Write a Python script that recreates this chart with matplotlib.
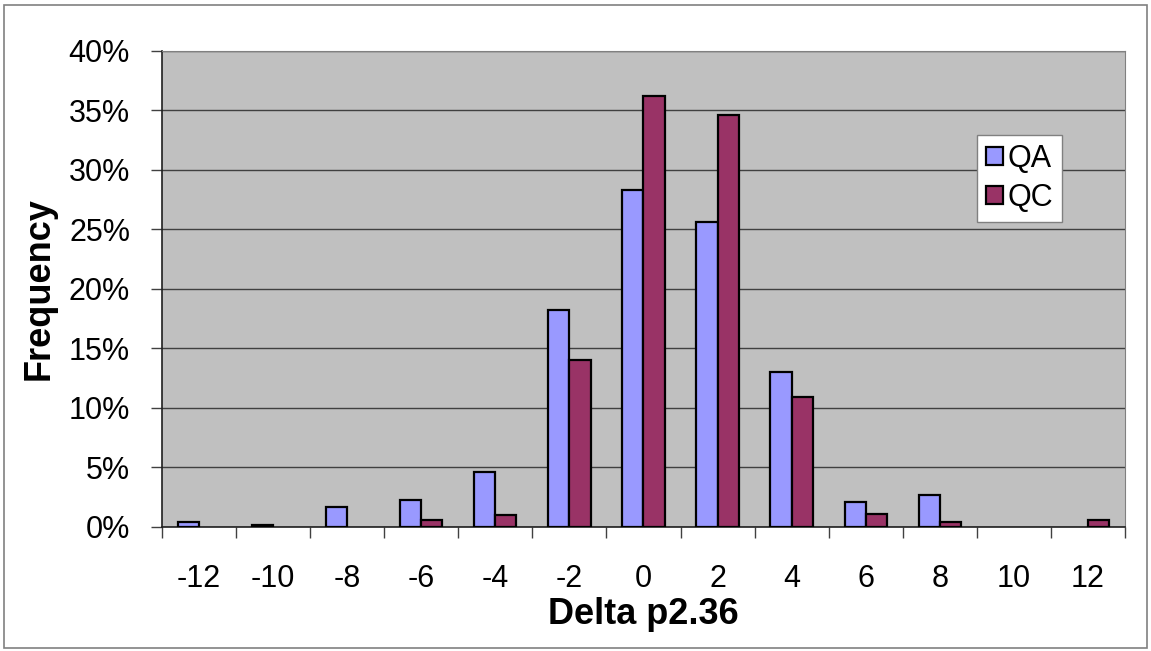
import matplotlib
matplotlib.use("Agg")
import matplotlib.pyplot as plt
from matplotlib.patches import Patch, Rectangle
from matplotlib.ticker import FuncFormatter, MultipleLocator
import numpy as np

plt.rcParams["font.family"] = ["Liberation Sans", "DejaVu Sans"]

# frequency of delta p2.36, in percent
deltas = ["-12", "-10", "-8", "-6", "-4", "-2", "0", "2", "4", "6", "8", "10", "12"]
qa = [0.4, 0.2, 1.7, 2.3, 4.6, 18.2, 28.3, 25.6, 13.0, 2.1, 2.7, 0.0, 0.0]
qc = [0.0, 0.0, 0.0, 0.6, 1.0, 14.0, 36.2, 34.6, 10.9, 1.1, 0.4, 0.0, 0.6]

QA_COL, QC_COL = "#9999FF", "#993366"

fig = plt.figure(figsize=(11.51, 6.51), dpi=100)
ax = fig.add_axes([0.1407, 0.1905, 0.8367, 0.7312])
ax.set_facecolor("#C0C0C0")

x = np.arange(len(deltas))
w = 0.286


def draw(offset, vals, color):
    bars = ax.bar(x + offset, vals, w, color=color, edgecolor="black",
                  linewidth=1.6, zorder=3)
    # empty classes get no outline
    for b, v in zip(bars, vals):
        if v == 0:
            b.set_visible(False)


draw(-w / 2, qa, QA_COL)
draw(w / 2, qc, QC_COL)

ax.set_xlim(-0.5, len(deltas) - 0.5)
ax.set_ylim(0, 40)
ax.yaxis.set_major_locator(MultipleLocator(5))
ax.yaxis.set_major_formatter(FuncFormatter(lambda v, _: f"{v:.0f}%"))
ax.grid(axis="y", color="#404040", linewidth=1.0, zorder=1)

ax.set_xticks(x)
ax.set_xticklabels(deltas)
ax.set_xticks(np.arange(len(deltas) + 1) - 0.5, minor=True)
ax.tick_params(axis="x", which="major", length=0, pad=27, labelsize=22)
ax.tick_params(axis="x", which="minor", length=8, width=1, color="#404040")
ax.tick_params(axis="y", length=8, width=1, color="#404040", labelsize=22, pad=15)

for side in ("top", "right"):
    ax.spines[side].set_color("#808080")
for side in ("left", "bottom"):
    ax.spines[side].set_color("#202020")
    ax.spines[side].set_linewidth(1.2)

ax.set_xlabel("Delta p2.36", fontsize=26, fontweight="bold", labelpad=2)
ax.set_ylabel("Frequency", fontsize=26, fontweight="bold", labelpad=9)

handles = [Patch(facecolor=QA_COL, edgecolor="black", linewidth=1.6, label="QA"),
           Patch(facecolor=QC_COL, edgecolor="black", linewidth=1.6, label="QC")]
leg = ax.legend(handles=handles, loc="upper left", bbox_to_anchor=(0.846, 0.824),
                borderaxespad=0, fontsize=22, handlelength=0.55, handleheight=0.55,
                handletextpad=0.15, labelspacing=0.3, borderpad=0.3,
                fancybox=False, framealpha=1)
leg.get_frame().set_edgecolor("#808080")
leg.get_frame().set_linewidth(1.0)

# outer chart frame
fig.patches.append(Rectangle((0.0035, 0.004), 0.993, 0.9885, transform=fig.transFigure,
                             fill=False, edgecolor="#808080", linewidth=1.2))

fig.savefig("out.png", dpi=100)
